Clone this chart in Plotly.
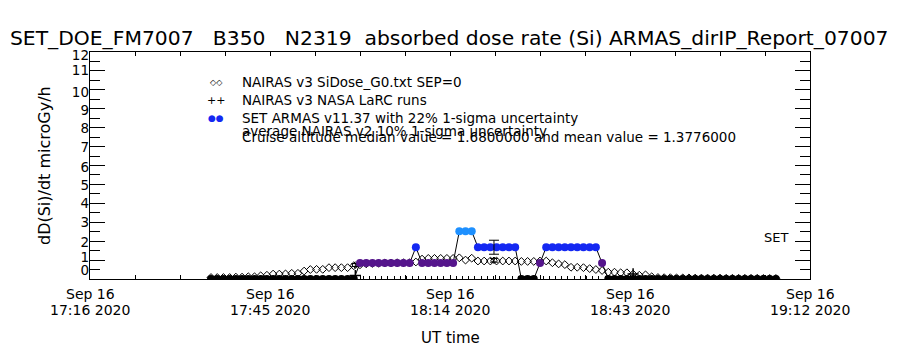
import plotly.graph_objects as go
import pandas as pd

# ---------------- data ----------------
day = "2020-09-16"
sample_start = "2020-09-16 17:35:30"   # 1-minute samples

armas_dose = [
    0, 0, 0, 0, 0, 0, 0, 0, 0, 0, 0, 0, 0, 0, 0, 0, 0, 0, 0, 0, 0, 0, 0, 0,
    0.84, 0.84, 0.84, 0.84, 0.84, 0.84, 0.84, 0.84, 0.84,
    1.68,
    0.84, 0.84, 0.84, 0.84, 0.84, 0.84,
    2.52, 2.52, 2.52,
    1.68, 1.68, 1.68, 1.68, 1.68, 1.68, 1.68,
    0, 0, 0,
    0.84,
    1.68, 1.68, 1.68, 1.68, 1.68, 1.68, 1.68, 1.68, 1.68,
    0.84,
    0, 0, 0, 0, 0, 0, 0, 0, 0, 0, 0, 0, 0, 0, 0, 0, 0, 0, 0, 0, 0, 0, 0, 0, 0, 0, 0, 0,
]

nairas_dose = [
    0.08, 0.08, 0.08, 0.08, 0.10, 0.10, 0.12, 0.12, 0.17, 0.20,
    0.26, 0.26, 0.27, 0.30, 0.30, 0.42, 0.50, 0.51, 0.51, 0.60,
    0.60, 0.60, 0.60, 0.70, 0.75, 0.80, 0.82, 0.83, 0.85, 0.85,
    0.86, 0.86, 0.86, 0.90, 1.05, 1.09, 1.09, 1.09, 1.09, 1.09,
    1.12, 1.00, 1.10, 0.95, 0.95, 0.95, 0.95, 0.95, 0.95, 0.95,
    0.93, 0.93, 0.93, 0.95, 0.95, 0.86, 0.80, 0.76, 0.62, 0.62,
    0.60, 0.55, 0.50, 0.45, 0.36, 0.36, 0.33, 0.33, 0.26, 0.20,
    0.22, 0.12, 0.08, 0.07, 0.07, 0.06, 0.06, 0.06, 0.05, 0.05,
    0.05, 0.05, 0.05, 0.04, 0.04, 0.04, 0.04, 0.04, 0.04, 0.03,
    0.03, 0.03,
]

larc_times = ["2020-09-16 17:58:45", "2020-09-16 18:43:30"]
larc_dose = [0.18, 0.27]

armas_err_time = ["2020-09-16 18:21:05"]
armas_err_center = [1.68]
armas_err_sigma = [0.37]

nairas_err_times = ["2020-09-16 17:58:45", "2020-09-16 18:21:05"]
nairas_err_center = [0.74, 0.99]
nairas_err_sigma = [0.08, 0.10]

x_range = ["2020-09-16 17:16:00", "2020-09-16 19:12:00"]
x_label_times = ["2020-09-16 17:16:00", "2020-09-16 17:45:00", "2020-09-16 18:14:00",
                 "2020-09-16 18:43:00", "2020-09-16 19:12:00"]
x_label_top = ["Sep 16", "Sep 16", "Sep 16", "Sep 16", "Sep 16"]
x_label_bottom = ["17:16 2020", "17:45 2020", "18:14 2020", "18:43 2020", "19:12 2020"]
minute_tick_range = ["2020-09-16 18:00:00", "2020-09-16 18:44:00"]

y_ticks = [0, 1, 2, 3, 4, 5, 6, 7, 8, 9, 10, 11, 12]
y_tick_text = ["0", "1", "2", "3", "4", "5", "6", "7", "8", "9", "10", "11", "12"]
# where the reference draws each y label (crowded at both ends)
y_label_pos = [0.48, 1.16, 1.96, 3.01, 4.02, 4.97, 5.92, 6.98, 7.98, 8.93, 9.89, 11.05, 11.84]

title_text = ("SET_DOE_FM7007\u00a0\u00a0\u00a0B350\u00a0\u00a0\u00a0N2319\u00a0\u00a0absorbed dose rate (Si) "
              "ARMAS_dirIP_Report_07007")
legend_lines = [
    "NAIRAS v3 SiDose_G0.txt SEP=0",
    "NAIRAS v3 NASA LaRC runs",
    "SET ARMAS v11.37 with 22% 1-sigma uncertainty",
    "average NAIRAS v2 10% 1-sigma uncertainty",
    "Cruise altitude median value = 1.6800000 and mean value = 1.3776000",
]

# ---------------- derived ----------------
t = pd.date_range(sample_start, periods=len(armas_dose), freq="60s")
major_ticks = pd.date_range(x_range[0], x_range[1], freq="435s")
minute_ticks = pd.date_range(minute_tick_range[0], minute_tick_range[1], freq="60s")

FONT = "DejaVu Sans"
L, R, T, B = 90, 810, 52, 279
W, H = 900, 350


def px(xp):
    return (xp - L) / (R - L)


def py(yp):
    return (B - yp) / (B - T)


fig = go.Figure()

# NAIRAS model diamonds
fig.add_trace(go.Scatter(
    x=t, y=nairas_dose, mode="markers",
    marker=dict(symbol="diamond-open", size=6, color="black", line=dict(width=1, color="black")),
    showlegend=False, hoverinfo="skip"))

# NAIRAS error boxes
fig.add_trace(go.Scatter(
    x=pd.to_datetime(nairas_err_times), y=nairas_err_center, mode="markers",
    marker=dict(symbol="diamond-open", size=5, color="black", line=dict(width=1)),
    error_y=dict(type="data", array=nairas_err_sigma, color="black", thickness=1, width=4),
    showlegend=False, hoverinfo="skip"))

# LaRC plus markers
fig.add_trace(go.Scatter(
    x=pd.to_datetime(larc_times), y=larc_dose, mode="markers",
    marker=dict(symbol="cross-thin-open", size=8, color="black", line=dict(width=1.5, color="black")),
    showlegend=False, hoverinfo="skip"))

# ARMAS measurements
fig.add_trace(go.Scatter(
    x=t, y=armas_dose, mode="lines+markers",
    line=dict(color="black", width=1),
    marker=dict(symbol="circle", size=8, color=armas_dose, cmin=0, cmax=2.52,
                colorscale=[[0, "#000000"], [1 / 3, "#55158c"], [2 / 3, "#1428f2"], [1, "#1e90ff"]],
                line=dict(width=0), showscale=False),
    showlegend=False, hoverinfo="skip"))

# ARMAS uncertainty
fig.add_trace(go.Scatter(
    x=pd.to_datetime(armas_err_time), y=armas_err_center, mode="markers",
    marker=dict(size=1, color="rgba(0,0,0,0)"),
    error_y=dict(type="data", array=armas_err_sigma, color="black", thickness=1, width=5),
    showlegend=False, hoverinfo="skip"))

# dummy traces for the helper axes
fig.add_trace(go.Scatter(x=[t[0]], y=[None], xaxis="x2", mode="markers",
                         showlegend=False, hoverinfo="skip"))
fig.add_trace(go.Scatter(x=[t[0]], y=[None], yaxis="y2", mode="markers",
                         showlegend=False, hoverinfo="skip"))

annotations = []
# title
annotations.append(dict(text=title_text, xref="paper", yref="paper", x=px(449), y=py(38),
                        xanchor="center", yanchor="middle", showarrow=False,
                        font=dict(family=FONT, size=20.3, color="black")))
# y title
annotations.append(dict(text="dD(Si)/dt microGy/h", xref="paper", yref="paper", x=px(44), y=py(166),
                        xanchor="center", yanchor="middle", textangle=-90, showarrow=False,
                        font=dict(family=FONT, size=16, color="black")))
# x title
annotations.append(dict(text="UT time", xref="paper", yref="paper", x=px(450), y=py(338),
                        xanchor="center", yanchor="middle", showarrow=False,
                        font=dict(family=FONT, size=15, color="black")))
# x tick labels (two lines)
for xt, a, b in zip(x_label_times, x_label_top, x_label_bottom):
    annotations.append(dict(text=a, xref="x", yref="paper", x=xt, y=py(294),
                            xanchor="center", yanchor="middle", showarrow=False,
                            font=dict(family=FONT, size=14, color="black")))
    annotations.append(dict(text=b, xref="x", yref="paper", x=xt, y=py(310),
                            xanchor="center", yanchor="middle", showarrow=False,
                            font=dict(family=FONT, size=14, color="black")))
# legend text
legend_y = [82, 99.5, 117.5, 131, 136.5]
for txt, yy in zip(legend_lines, legend_y):
    annotations.append(dict(text=txt, xref="paper", yref="paper", x=px(240), y=py(yy),
                            xanchor="left", yanchor="middle", showarrow=False,
                            font=dict(family=FONT, size=13.5, color="black")))
# legend keys
annotations.append(dict(text="\u25c7\u25c7", xref="paper", yref="paper", x=px(216), y=py(83),
                        xanchor="center", yanchor="middle", showarrow=False,
                        font=dict(family=FONT, size=8, color="black")))
annotations.append(dict(text="++", xref="paper", yref="paper", x=px(216), y=py(100),
                        xanchor="center", yanchor="middle", showarrow=False,
                        font=dict(family=FONT, size=11, color="black")))
annotations.append(dict(text="\u25cf\u25cf", xref="paper", yref="paper", x=px(216), y=py(118),
                        xanchor="center", yanchor="middle", showarrow=False,
                        font=dict(family=FONT, size=9, color="#1428f2")))
# SET label
annotations.append(dict(text="SET", xref="paper", yref="paper", x=px(776), y=py(237),
                        xanchor="center", yanchor="middle", showarrow=False,
                        font=dict(family=FONT, size=13, color="black")))

fig.update_layout(
    width=W, height=H,
    margin=dict(l=L, r=W - R, t=T, b=H - B, pad=0),
    paper_bgcolor="white", plot_bgcolor="white",
    showlegend=False,
    font=dict(family=FONT, size=14, color="black"),
    annotations=annotations,
    xaxis=dict(
        type="date", range=x_range,
        showline=True, linecolor="black", linewidth=1, mirror="ticks",
        ticks="inside", ticklen=4, tickcolor="black", tickwidth=1,
        tickmode="array", tickvals=list(major_ticks), showticklabels=False,
        showgrid=False, zeroline=False,
    ),
    xaxis2=dict(
        type="date", overlaying="x", matches="x", anchor="y", side="bottom",
        showline=False, ticks="inside", ticklen=3, tickcolor="black", tickwidth=1,
        tickmode="array", tickvals=list(minute_ticks), showticklabels=False,
        showgrid=False, zeroline=False,
    ),
    yaxis=dict(
        range=[0, 12],
        showline=True, linecolor="black", linewidth=1, mirror="ticks",
        ticks="inside", ticklen=15, tickcolor="black", tickwidth=1,
        tickmode="array", tickvals=y_ticks, showticklabels=False,
        minor=dict(dtick=0.5, ticks="inside", ticklen=10, tickcolor="black", tickwidth=1, showgrid=False),
        showgrid=False, zeroline=False,
    ),
    yaxis2=dict(
        range=[0, 12], overlaying="y", anchor="x", side="left",
        showline=False, ticks="", showgrid=False, zeroline=False,
        tickmode="array", tickvals=y_label_pos, ticktext=y_tick_text,
        tickfont=dict(family=FONT, size=13.5, color="black"),
    ),
)

fig.write_html("out.html")
